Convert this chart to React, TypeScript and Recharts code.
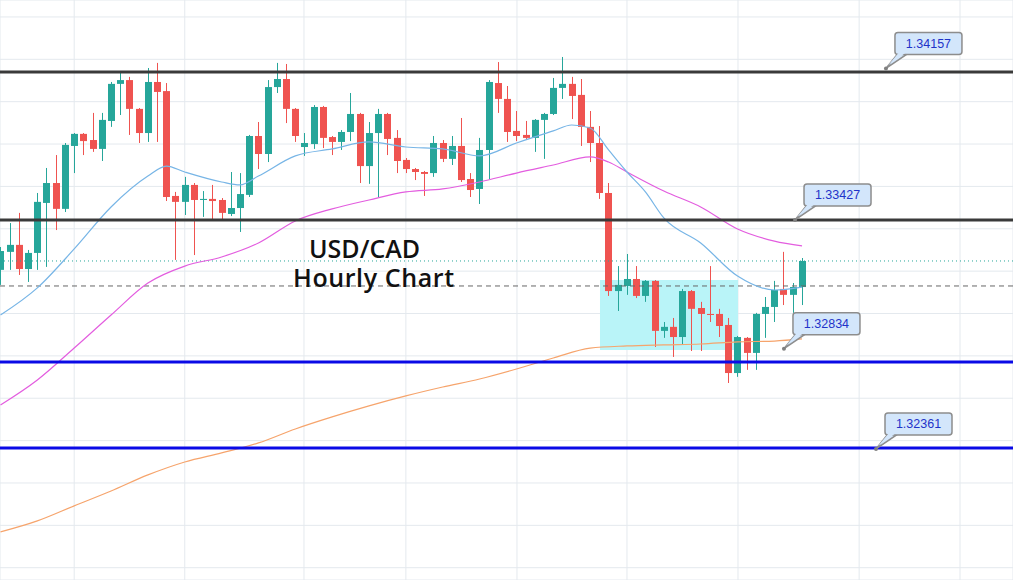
import React from "react";
import {
  ComposedChart,
  Bar,
  Line,
  XAxis,
  YAxis,
  CartesianGrid,
  ReferenceLine,
  ReferenceArea,
  ReferenceDot,
} from "recharts";

const W = 1013;
const H = 580;

// hourly candles, oldest first: [open, high, low, close]
const candles: number[][] = [
  [1.33206, 1.33314, 1.33135, 1.33295],
  [1.33291, 1.33427, 1.33206, 1.33324],
  [1.33324, 1.33475, 1.33182, 1.3321],
  [1.3321, 1.333, 1.33149, 1.33286],
  [1.33286, 1.33569, 1.33206, 1.33527],
  [1.33522, 1.33687, 1.3322, 1.33616],
  [1.33616, 1.33748, 1.33394, 1.33494],
  [1.33494, 1.33805, 1.33479, 1.33796],
  [1.33791, 1.33852, 1.33663, 1.33848],
  [1.33848, 1.33852, 1.33748, 1.33814],
  [1.33819, 1.33947, 1.33763, 1.33777],
  [1.33777, 1.33947, 1.3372, 1.33914],
  [1.33909, 1.34093, 1.33881, 1.34084],
  [1.34084, 1.3414, 1.33937, 1.34102],
  [1.34102, 1.34117, 1.33843, 1.33966],
  [1.33966, 1.3397, 1.33805, 1.33852],
  [1.33852, 1.34159, 1.3381, 1.34093],
  [1.34093, 1.34183, 1.3381, 1.34046],
  [1.3405, 1.34088, 1.33531, 1.3355],
  [1.33555, 1.33574, 1.33253, 1.33527],
  [1.33527, 1.33645, 1.33465, 1.33607],
  [1.33607, 1.33616, 1.33276, 1.33536],
  [1.33536, 1.33578, 1.33456, 1.33541],
  [1.33541, 1.33607, 1.33437, 1.33531],
  [1.33536, 1.33545, 1.33442, 1.33475],
  [1.3347, 1.33668, 1.3346, 1.33498],
  [1.33498, 1.33663, 1.33385, 1.33564],
  [1.3356, 1.33843, 1.3355, 1.33838],
  [1.33838, 1.33904, 1.33682, 1.33753],
  [1.33753, 1.34102, 1.33715, 1.34069],
  [1.34069, 1.34183, 1.34041, 1.34107],
  [1.34107, 1.34178, 1.33899, 1.33966],
  [1.33966, 1.3397, 1.3381, 1.33838],
  [1.33786, 1.33852, 1.33744, 1.33805],
  [1.338, 1.33984, 1.33777, 1.33975],
  [1.33975, 1.3398, 1.33781, 1.33829],
  [1.33833, 1.33838, 1.33748, 1.3381],
  [1.3381, 1.33866, 1.33772, 1.33857],
  [1.33857, 1.34041, 1.33814, 1.33942],
  [1.33942, 1.33947, 1.33616, 1.33696],
  [1.33696, 1.33904, 1.33612, 1.33852],
  [1.33852, 1.33966, 1.3355, 1.33942],
  [1.33942, 1.33947, 1.33748, 1.33824],
  [1.33829, 1.33866, 1.33663, 1.3372],
  [1.33725, 1.33734, 1.33663, 1.33682],
  [1.33682, 1.33687, 1.3363, 1.33668],
  [1.33668, 1.33673, 1.33555, 1.33659],
  [1.33663, 1.33838, 1.33645, 1.33805],
  [1.33805, 1.33819, 1.33715, 1.3373],
  [1.3373, 1.33838, 1.33701, 1.33791],
  [1.33791, 1.33923, 1.33621, 1.3363],
  [1.33635, 1.33663, 1.3355, 1.33583],
  [1.33588, 1.33829, 1.33517, 1.33772],
  [1.33772, 1.34102, 1.33635, 1.34093],
  [1.34088, 1.34187, 1.33947, 1.34013],
  [1.34013, 1.34074, 1.3381, 1.33857],
  [1.33862, 1.33956, 1.33814, 1.33838],
  [1.33843, 1.33909, 1.33824, 1.33829],
  [1.33829, 1.33918, 1.33763, 1.33914],
  [1.33914, 1.33947, 1.3373, 1.33942],
  [1.33942, 1.34112, 1.33937, 1.34065],
  [1.34065, 1.34211, 1.34013, 1.34084],
  [1.34084, 1.34117, 1.33918, 1.34027],
  [1.34032, 1.34107, 1.33791, 1.33881],
  [1.33881, 1.33956, 1.33715, 1.33805],
  [1.33805, 1.33885, 1.33541, 1.33569],
  [1.33569, 1.33616, 1.33083, 1.33106],
  [1.33106, 1.33224, 1.33012, 1.33135],
  [1.3313, 1.33281, 1.33088, 1.33163],
  [1.33163, 1.33224, 1.33073, 1.33083],
  [1.33083, 1.33158, 1.33055, 1.33154],
  [1.33154, 1.33158, 1.32842, 1.32918],
  [1.32918, 1.3296, 1.32885, 1.32937],
  [1.32937, 1.32979, 1.32795, 1.32889],
  [1.32889, 1.33116, 1.32852, 1.33106],
  [1.33106, 1.33111, 1.32823, 1.33022],
  [1.33026, 1.33055, 1.32823, 1.32998],
  [1.32998, 1.33224, 1.3296, 1.32993],
  [1.32998, 1.33022, 1.32889, 1.32941],
  [1.32946, 1.32979, 1.32672, 1.32719],
  [1.32719, 1.32894, 1.32701, 1.32889],
  [1.32885, 1.32889, 1.32734, 1.32814],
  [1.32814, 1.33003, 1.32734, 1.32998],
  [1.32998, 1.33078, 1.32885, 1.33031],
  [1.33031, 1.33154, 1.3296, 1.33111],
  [1.33116, 1.33291, 1.3304, 1.33088],
  [1.33088, 1.33144, 1.33003, 1.33125],
  [1.33125, 1.33262, 1.3304, 1.33248],
];

// moving averages: [candle index, value]
const maFast: number[][] = [
  [0, 1.32993], [4, 1.33121], [8, 1.33305], [12, 1.33503], [16, 1.33649],
  [18, 1.33696], [20, 1.33668], [24, 1.33621], [26, 1.33607], [28, 1.33649],
  [32, 1.33744], [36, 1.33777], [40, 1.3381], [44, 1.33786], [48, 1.33777],
  [52, 1.33744], [56, 1.33805], [60, 1.33862], [62, 1.3389], [64, 1.33876],
  [66, 1.33772], [68, 1.33668], [70, 1.33574], [72, 1.33451], [76, 1.33333],
  [80, 1.33177], [84, 1.33111], [87, 1.33125],
];

const maMid: number[][] = [
  [0, 1.32568], [4, 1.32686], [8, 1.32837], [12, 1.32993], [16, 1.33144],
  [20, 1.33224], [24, 1.33267], [28, 1.33333], [32, 1.33437], [36, 1.33494],
  [40, 1.33536], [44, 1.33574], [48, 1.33588], [52, 1.33621], [56, 1.33663],
  [60, 1.33701], [64, 1.33739], [66, 1.33715], [68, 1.33668], [72, 1.33578],
  [76, 1.33503], [80, 1.33399], [84, 1.33342], [87, 1.33319],
];

const maSlow: number[][] = [
  [0, 1.31969], [4, 1.32021], [8, 1.32092], [12, 1.32162], [16, 1.32238],
  [20, 1.32299], [24, 1.32342], [28, 1.32389], [32, 1.32455], [36, 1.32512],
  [40, 1.32564], [44, 1.32611], [48, 1.32653], [52, 1.32691], [56, 1.32738],
  [60, 1.3279], [64, 1.32837], [68, 1.32847], [72, 1.32852], [76, 1.32856],
  [80, 1.32866], [84, 1.3287], [87, 1.3288],
];

const priceTicks = [
  1.318, 1.32, 1.322, 1.324, 1.326, 1.328, 1.33, 1.332, 1.334, 1.336, 1.338,
  1.34, 1.342, 1.344,
];
const timeTicks = [8, 20, 32.94, 44, 56.06, 68, 80.05, 93.2, 104.15];

// support / resistance levels and their callouts
const resistance = [1.3414, 1.33442];
const support = [1.32771, 1.32365];
const callouts = [
  { i: 96.11, price: 1.34157, text: "1.34157" },
  { i: 86.24, price: 1.33442, text: "1.33427" },
  { i: 85.04, price: 1.32834, text: "1.32834" },
  { i: 95.03, price: 1.32361, text: "1.32361" },
];
const lastPrice = 1.33248;
const pivot = 1.3313;
const box = { i1: 65.07, i2: 80.05, lo: 1.32828, hi: 1.33158 };

const data = candles.map(([o, h, l, c], i) => ({ i, o, h, l, c, range: [l, h] }));
const toPts = (arr: number[][]) => arr.map(([i, v]) => ({ i, v }));

const UP = "#26a69a";
const DOWN = "#ef5350";

const Candle = (props: any) => {
  const { x, y, width, height, payload } = props;
  if (!payload) return null;
  const top = Math.min(y, y + height);
  const hgt = Math.abs(height);
  const { o, h, l, c } = payload;
  const py = (v: number) => top + ((h - v) / (h - l)) * hgt;
  const cx = Math.round(x + width / 2) + 0.5;
  const color = c >= o ? UP : DOWN;
  const bt = py(Math.max(o, c));
  const bb = py(Math.min(o, c));
  return (
    <g>
      <line x1={cx} x2={cx} y1={top} y2={top + hgt} stroke={color} strokeWidth={1} />
      <rect x={cx - 3.5} y={bt} width={7} height={Math.max(1, bb - bt)} fill={color} />
    </g>
  );
};

const Callout = ({ cx, cy, text }: any) => {
  const wedge = `${cx},${cy} ${cx + 12},${cy - 15} ${cx + 22},${cy - 15}`;
  return (
    <g>
      <polygon points={wedge} fill="#d3e6fb" stroke="#8d8d8d" strokeWidth={1.5} />
      <rect x={cx + 9} y={cy - 36} width={67} height={22} rx={3} fill="#d3e6fb" stroke="#8d8d8d" strokeWidth={1.5} />
      <polygon points={`${cx + 2},${cy - 3} ${cx + 13},${cy - 16} ${cx + 20},${cy - 16}`} fill="#d3e6fb" />
      <circle cx={cx} cy={cy} r={2} fill="#808080" />
      <text x={cx + 42.5} y={cy - 20.5} textAnchor="middle" fontSize={12.5} fill="#1f33c9" fontFamily="Liberation Sans, Arial, sans-serif">
        {text}
      </text>
    </g>
  );
};

const maLine = (pts: number[][], color: string) => (
  <Line
    data={toPts(pts)}
    dataKey="v"
    type="monotone"
    stroke={color}
    strokeWidth={1.2}
    dot={false}
    activeDot={false}
    legendType="none"
    isAnimationActive={false}
  />
);

export default function App() {
  return (
    <div style={{ position: "absolute", left: 0, top: 0, width: W, height: H, background: "#fff" }}>
      <ComposedChart width={W} height={H} data={data} margin={{ top: 0, right: 0, bottom: 0, left: 0 }}>
        <CartesianGrid stroke="#e4e9ee" strokeWidth={1} />
        <XAxis type="number" dataKey="i" domain={[-0.054, 109.9]} ticks={timeTicks} allowDataOverflow hide />
        <YAxis type="number" domain={[1.31742, 1.3448]} ticks={priceTicks} allowDataOverflow hide />

        <ReferenceArea x1={box.i1} x2={box.i2} y1={box.lo} y2={box.hi} fill="#b9f4f8" fillOpacity={1} stroke="none" />

        <ReferenceLine y={pivot} stroke="#666" strokeDasharray="5 4" strokeWidth={1} />
        <ReferenceLine y={lastPrice} stroke={UP} strokeDasharray="1 3" strokeWidth={1} />

        {maLine(maSlow, "#f6a46c")}
        {maLine(maMid, "#e35ddf")}
        {maLine(maFast, "#77b5e6")}

        <Bar dataKey="range" barSize={7} shape={Candle} isAnimationActive={false} />

        {resistance.map((p) => (
          <ReferenceLine key={p} y={p} stroke="#3a3a3a" strokeWidth={3} />
        ))}
        {support.map((p) => (
          <ReferenceLine key={p} y={p} stroke="#0a0ae6" strokeWidth={3} />
        ))}

        {callouts.map((c) => (
          <ReferenceDot key={c.text} x={c.i} y={c.price} r={2} shape={(p: any) => <Callout {...p} text={c.text} />} />
        ))}
      </ComposedChart>

      <svg width={W} height={H} style={{ position: "absolute", left: 0, top: 0, pointerEvents: "none" }}>
        <text x={309} y={258} fontSize={25} fontWeight={600} fill="#111" fontFamily="Open Sans, sans-serif">
          USD/CAD
        </text>
        <text x={293} y={287} fontSize={25} fontWeight={600} letterSpacing={0.6} fill="#111" fontFamily="Open Sans, sans-serif">
          Hourly Chart
        </text>
      </svg>
    </div>
  );
}
